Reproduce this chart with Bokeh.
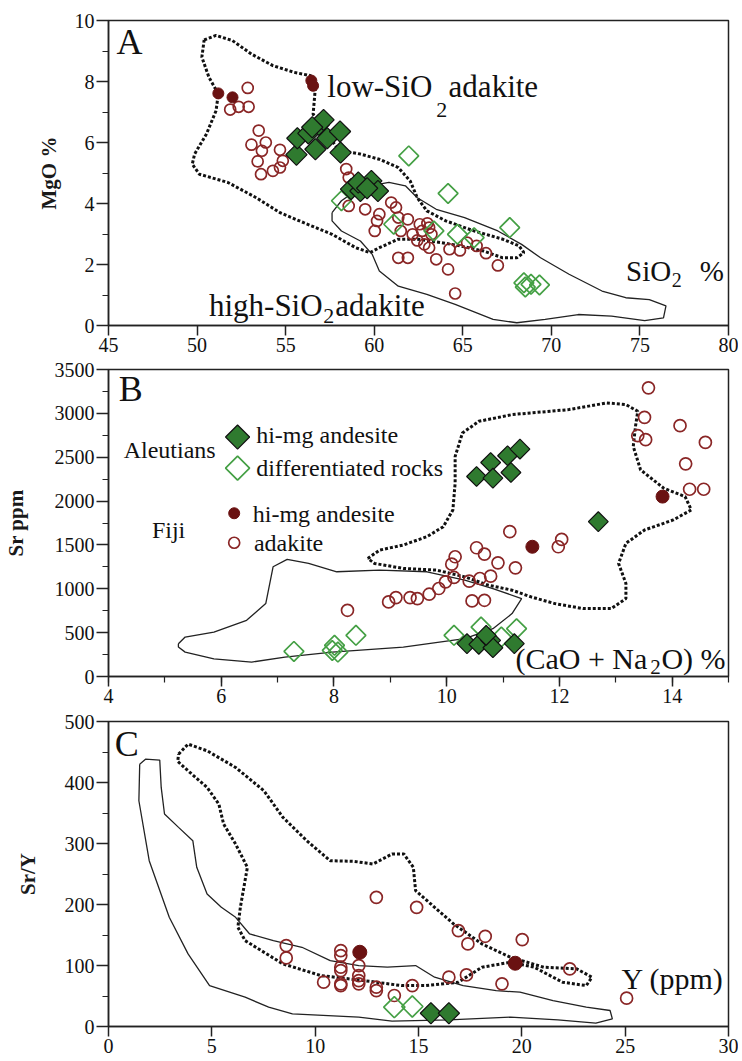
import numpy as np
from bokeh.plotting import figure
from bokeh.layouts import column
from bokeh.models import Range1d, SingleIntervalTicker
from bokeh.embed import file_html
from bokeh.resources import INLINE
from bokeh.core.properties import value

SERIF = "Liberation Serif"
RED_LINE = "#8a2626"
RED_FILL = "#6a1212"
GREEN_FILL = "#2f7a2f"
GREEN_OPEN = "#45a045"
INK = "#111111"

# ---------------- Panel A : MgO vs SiO2 ----------------
a_fiji_hma_x = [51.2, 52.0, 56.45, 56.55]
a_fiji_hma_y = [7.61, 7.48, 8.03, 7.86]
a_fiji_adk_x = [52.86, 51.87, 52.35, 52.91, 53.48, 53.07, 53.88, 53.66, 54.68, 53.42, 54.84,
                53.61, 54.28, 54.68, 58.42, 58.56, 58.56, 59.49, 60.29, 60.16, 60.03, 60.96,
                61.23, 61.36, 61.9, 61.5, 62.17, 62.57, 62.43, 62.83, 63.10, 63.23, 63.1,
                61.36, 61.9, 63.5, 64.25, 64.84, 65.24, 65.78, 66.31, 66.98, 64.17, 64.57,
                63.0, 62.7]
a_fiji_adk_y = [7.79, 7.08, 7.17, 7.17, 6.39, 5.93, 6.0, 5.73, 5.76, 5.38, 5.40,
                4.96, 5.07, 5.18, 5.13, 4.85, 3.92, 3.81, 3.65, 3.43, 3.10, 4.03,
                3.87, 3.54, 3.48, 3.10, 2.99, 3.32, 2.79, 2.66, 2.55, 2.99, 3.21,
                2.22, 2.22, 2.17, 2.5, 2.46, 2.72, 2.61, 2.37, 1.97, 1.84, 1.05,
                3.35, 3.1]
a_aleu_hma_x = [55.61, 55.66, 56.28, 56.87, 57.14, 56.68, 57.35, 58.07, 58.10, 56.5,
                58.69, 59.22, 59.84, 60.21, 59.1, 59.6]
a_aleu_hma_y = [5.60, 6.14, 6.30, 6.58, 6.74, 5.78, 6.14, 6.36, 5.67, 6.5,
                4.47, 4.41, 4.74, 4.41, 4.69, 4.5]
a_aleu_dif_x = [61.95, 64.17, 67.65, 64.7, 65.64, 63.37, 61.1, 58.15, 68.53, 68.85, 69.33, 68.45]
a_aleu_dif_y = [5.56, 4.33, 3.21, 2.99, 2.88, 3.10, 3.32, 4.09, 1.26, 1.35, 1.33, 1.4]

a_low_field_x = [50.4, 51.07, 52.0, 53.07, 54.28, 55.48, 56.42, 56.68, 56.6, 56.55, 58.0,
                 59.22, 60.29, 61.36, 62.03, 62.43, 62.97, 64.04, 65.64, 67.25, 68.18, 68.45,
                 68.05, 67.25, 66.18, 64.84, 63.77, 62.43, 61.36, 60.29, 59.76, 58.96, 57.62,
                 56.02, 54.68, 53.34, 51.74, 50.13, 49.73, 49.86, 50.53, 51.07, 51.2, 50.67, 50.27]
a_low_field_y = [9.36, 9.51, 9.34, 8.9, 8.52, 8.30, 8.19, 7.81, 7.26, 6.93, 5.75,
                 5.62, 5.45, 5.18, 4.74, 4.19, 3.76, 3.43, 3.10, 2.83, 2.61, 2.39,
                 2.22, 2.22, 2.44, 2.61, 2.72, 2.83, 2.83, 2.55, 2.39, 2.55, 2.99,
                 3.37, 3.70, 4.19, 4.69, 4.96, 5.29, 5.62, 6.28, 7.04, 7.59, 8.14, 8.80]
a_high_field_x = [57.62, 58.15, 59.22, 60.83, 61.76, 62.43, 63.5, 65.1, 66.98, 68.32, 69.39,
                  71.0, 72.86, 74.2, 75.53, 76.47, 76.33, 75.27, 73.4, 71.52, 69.65, 68.05,
                  66.71, 64.57, 62.97, 61.36, 60.29, 59.89, 59.22, 58.15, 57.62]
a_high_field_y = [3.70, 4.09, 4.52, 4.69, 4.58, 4.19, 3.81, 3.54, 3.10, 2.66, 2.22,
                  1.68, 1.13, 0.91, 0.85, 0.64, 0.25, 0.16, 0.31, 0.36, 0.20, 0.09,
                  0.20, 0.69, 1.02, 1.29, 1.79, 2.33, 2.77, 3.10, 3.43]

a_big_text = ["low-SiO", "adakite", "high-SiO", "adakite"]
a_big_x = [57.35, 64.2, 50.67, 57.8]
a_big_y = [7.83, 7.83, 0.64, 0.64]
a_sub_text = ["2", "2"]
a_sub_x = [63.5, 57.12]
a_sub_y = [7.05, 0.3]
a_axis_text = ["SiO", "%"]
a_axis_x = [74.22, 78.37]
a_axis_y = [1.79, 1.79]
a_axis_sub = ["2"]
a_axis_sub_x = [76.8]
a_axis_sub_y = [1.5]

# ---------------- Panel B : Sr vs CaO+Na2O ----------------
b_aleu_hma_x = [10.53, 10.78, 10.82, 11.08, 11.14, 11.30, 12.69, 10.36, 10.57, 10.78, 10.82, 10.70, 11.20]
b_aleu_hma_y = [2280, 2440, 2261, 2517, 2326, 2593, 1765, 374, 366, 412, 328, 469, 374]
b_aleu_dif_x = [7.29, 7.97, 8.01, 8.07, 8.39, 10.13, 10.61, 10.97, 11.24]
b_aleu_dif_y = [286, 297, 355, 278, 469, 469, 564, 450, 545]
b_fiji_hma_x = [11.52, 13.83]
b_fiji_hma_y = [1479, 2051]
b_fiji_adk_x = [13.58, 13.51, 13.39, 13.53, 14.14, 14.59, 14.24, 14.31, 14.56, 11.12, 12.04,
                11.98, 10.53, 10.67, 10.91, 11.22, 10.15, 10.09, 10.78, 10.59, 10.40, 10.13,
                9.98, 9.86, 9.69, 9.48, 9.35, 9.10, 8.97, 10.45, 10.67, 8.24]
b_fiji_adk_y = [3291, 2955, 2745, 2700, 2860, 2669, 2425, 2135, 2135, 1651, 1563,
                1479, 1468, 1396, 1296, 1239, 1365, 1281, 1144, 1117, 1087, 1129,
                1079, 1003, 938, 888, 900, 900, 850, 862, 869, 755]

b_dot_field_x = [8.6, 8.81, 9.23, 9.65, 9.94, 10.11, 10.15, 10.15, 10.28, 10.57, 11.16, 12.17,
                 12.84, 13.18, 13.39, 13.35, 13.31, 13.44, 13.85, 14.23, 14.34, 14.02, 13.51,
                 13.18, 13.05, 13.18, 13.18, 12.92, 12.42, 11.92, 11.50, 11.16, 10.74, 10.32,
                 9.82, 9.23, 8.72]
b_dot_field_y = [1346, 1441, 1499, 1594, 1708, 1899, 2204, 2509, 2776, 2909, 2986, 3043,
                 3119, 3100, 3024, 2852, 2623, 2356, 2147, 2051, 1899, 1785, 1670,
                 1518, 1289, 1060, 888, 774, 774, 831, 907, 984, 1041, 1136,
                 1213, 1232, 1289]
b_sol_field_x = [5.24, 5.36, 5.87, 6.45, 6.79, 6.92, 7.17, 7.55, 8.05, 8.81, 9.65, 10.32,
                 10.82, 11.33, 11.16, 10.82, 10.32, 9.23, 7.97, 7.13, 6.54, 5.87, 5.36, 5.24]
b_sol_field_y = [374, 450, 507, 641, 831, 1251, 1335, 1289, 1194, 1213, 1194, 1098,
                 1003, 888, 717, 545, 431, 336, 278, 221, 164, 202, 278, 336]

b_group_text = ["Aleutians", "Fiji"]
b_group_x = [4.27, 4.77]
b_group_y = [2585, 1670]
b_key_text = ["hi-mg andesite", "differentiated rocks", "hi-mg andesite", "adakite"]
b_key_text_x = [6.62, 6.62, 6.56, 6.58]
b_key_text_y = [2750, 2375, 1852, 1520]
b_key_dia_x = [6.29]
b_key_dia_y = [2730]
b_key_odia_x = [6.29]
b_key_odia_y = [2375]
b_key_dot_x = [6.23]
b_key_dot_y = [1861]
b_key_ring_x = [6.23]
b_key_ring_y = [1525]
b_axis_text = ["(CaO + Na", "O) %"]
b_axis_x = [11.22, 13.81]
b_axis_y = [202, 202]
b_axis_sub = ["2"]
b_axis_sub_x = [13.61]
b_axis_sub_y = [105]

# ---------------- Panel C : Sr/Y vs Y ----------------
c_fiji_adk_x = [8.60, 8.60, 12.96, 14.91, 16.93, 17.39, 18.23, 20.02, 22.32, 25.07, 10.41,
                11.24, 11.24, 11.24, 11.24, 11.24, 11.24, 12.11, 12.11, 12.11, 12.11, 12.96,
                12.96, 13.83, 14.70, 16.47, 17.32, 19.04]
c_fiji_adk_y = [132.6, 112.4, 211.8, 195.4, 157.2, 135.4, 147.9, 142.5, 94.4, 46.4, 72.6,
                124.5, 116.3, 97.2, 91.7, 69.9, 67.1, 99.9, 83.5, 75.3, 69.9, 64.4,
                58.9, 50.8, 67.1, 80.8, 84.6, 69.9]
c_fiji_hma_x = [12.16, 19.68]
c_fiji_hma_y = [121.7, 103.7]
c_aleu_dif_x = [13.83, 14.70]
c_aleu_dif_y = [31.7, 32.8]
c_aleu_hma_x = [15.6, 16.47]
c_aleu_hma_y = [21.8, 21.8]

c_dot_field_x = [3.39, 3.85, 4.77, 6.15, 7.52, 8.44, 9.59, 10.73, 11.88, 12.80, 13.72, 14.29,
                 14.75, 14.86, 15.78, 16.70, 18.07, 19.45, 21.06, 22.66, 23.39, 23.12, 21.97,
                 20.6, 19.45, 18.07, 16.93, 15.32, 14.17, 12.34, 10.28, 8.44, 6.61, 6.26,
                 6.38, 6.72, 6.15, 5.57, 5.34, 4.77, 3.85, 3.35]
c_dot_field_y = [446.5, 462.9, 452, 424.7, 386.5, 342.8, 304.6, 271.8, 270.7, 266.4, 282.8, 282.8,
                 260.9, 222.7, 195.4, 168.1, 135.4, 113.5, 97.2, 94.4, 80.8, 67.1, 72.6,
                 97.2, 105.3, 97.2, 72.6, 67.1, 67.1, 75.3, 83.5, 102.6, 140.8, 162.7,
                 195.4, 260.9, 299.1, 331.9, 364.6, 391.9, 419.2, 434.5]
c_sol_field_x = [1.51, 1.79, 2.48, 2.55, 2.71, 3.39, 4.08, 4.27, 4.77, 5.46, 6.15, 6.83,
                 7.98, 9.36, 10.73, 12.11, 13.49, 14.86, 15.78, 17.16, 18.76, 19.91, 21.51,
                 23.12, 24.27, 24.38, 23.58, 21.74, 19.45, 16.47, 13.72, 12.11, 8.90, 7.75,
                 6.61, 4.89, 3.85, 2.94, 1.97, 1.47]
c_sol_field_y = [430, 438.3, 436.7, 391.9, 348.3, 326.4, 304.6, 260.9, 217.2, 195.4, 179.0, 151.7,
                 140.8, 129.9, 108.1, 99.9, 97.2, 99.9, 80.8, 67.1, 58.9, 56.2, 42.6,
                 31.7, 26.2, 12.6, 5.5, 10.9, 15.3, 10.9, 8.7, 15.3, 20.7, 31.7,
                 48.0, 67.1, 119.0, 179.0, 271.8, 370.1]
c_axis_text = ["Y (ppm)"]
c_axis_x = [24.82]
c_axis_y = [78]

panel_letters = ["A", "B", "C"]
panel_letter_x = [45.45, 4.18, 0.3]
panel_letter_y = [9.3, 3272, 463]


def closed(xs, ys):
    return list(xs) + [xs[0]], list(ys) + [ys[0]]


def make_fig(xr, yr, xint, yint, xminor, yminor, ylabel, height, top, bottom, standoff):
    p = figure(width=738, height=height,
               min_border_left=108, min_border_right=10,
               min_border_top=top, min_border_bottom=bottom,
               x_range=Range1d(*xr), y_range=Range1d(*yr),
               output_backend="svg", toolbar_location=None,
               background_fill_color="white", border_fill_color="white")
    p.xaxis.ticker = SingleIntervalTicker(interval=xint, num_minor_ticks=xminor)
    p.yaxis.ticker = SingleIntervalTicker(interval=yint, num_minor_ticks=yminor)
    p.grid.visible = False
    p.outline_line_color = "#222222"
    p.outline_line_width = 1.5
    for ax in (p.xaxis, p.yaxis):
        ax.axis_line_color = "#222222"
        ax.axis_line_width = 1.5
        ax.major_tick_line_color = "#222222"
        ax.major_tick_line_width = 1.5
        ax.minor_tick_line_color = "#222222"
        ax.minor_tick_line_width = 1.2
        ax.major_tick_in = 0
        ax.minor_tick_out = 6
        ax.minor_tick_in = 0
        ax.major_label_text_font = SERIF
        ax.major_label_text_font_size = "20px"
        ax.major_label_text_color = INK
        ax.major_label_standoff = 2
    p.xaxis.major_tick_out = 10
    p.yaxis.major_tick_out = 12
    p.yaxis.axis_label = ylabel
    p.yaxis.axis_label_text_font = SERIF
    p.yaxis.axis_label_text_font_style = "bold"
    p.yaxis.axis_label_text_font_size = "21px"
    p.yaxis.axis_label_text_color = "#1a1a1a"
    p.yaxis.axis_label_standoff = standoff
    return p


def txt(p, xs, ys, texts, size, align="left"):
    p.text(x=xs, y=ys, text=texts, text_font=value(SERIF), text_font_size=size,
           text_align=align, text_baseline="middle", text_color=INK)


def dotted(p, xs, ys):
    cx, cy = closed(xs, ys)
    p.line(cx, cy, line_color="#111111", line_width=3, line_dash="3 2")


def solid(p, xs, ys):
    cx, cy = closed(xs, ys)
    p.line(cx, cy, line_color="#222222", line_width=1.3)


def rings(p, xs, ys, size=11):
    p.scatter(xs, ys, marker="circle", size=size, fill_color=None,
              line_color=RED_LINE, line_width=1.7)


def dots(p, xs, ys, size=11):
    p.scatter(xs, ys, marker="circle", size=size, fill_color=RED_FILL,
              line_color=RED_FILL, line_width=1)


def dia(p, xs, ys, size=12):
    p.scatter(xs, ys, marker="square", angle=np.pi / 4, size=size,
              fill_color=GREEN_FILL, line_color="#111111", line_width=1.2)


def odia(p, xs, ys, size=12):
    p.scatter(xs, ys, marker="square", angle=np.pi / 4, size=size,
              fill_color=None, line_color=GREEN_OPEN, line_width=1.7)


# ---- Panel A  (frame 20..325)
pa = make_fig((45, 80), (0, 10), 5, 2, 0, 2, "MgO %", 360, 20, 35, 11)
dotted(pa, a_low_field_x, a_low_field_y)
solid(pa, a_high_field_x, a_high_field_y)
rings(pa, a_fiji_adk_x, a_fiji_adk_y, 11)
odia(pa, a_aleu_dif_x, a_aleu_dif_y, 14)
dia(pa, a_aleu_hma_x, a_aleu_hma_y, 15)
dots(pa, a_fiji_hma_x, a_fiji_hma_y, 11)
txt(pa, a_big_x, a_big_y, a_big_text, "31px")
txt(pa, a_sub_x, a_sub_y, a_sub_text, "22px")
txt(pa, a_axis_x, a_axis_y, a_axis_text, "29px")
txt(pa, a_axis_sub_x, a_axis_sub_y, a_axis_sub, "20px")
txt(pa, panel_letter_x[:1], panel_letter_y[:1], panel_letters[:1], "36px")

# ---- Panel B  (frame 369..676)
pb = make_fig((4, 15), (0, 3500), 2, 500, 2, 2, "Sr ppm", 352, 9, 36, 24)
dotted(pb, b_dot_field_x, b_dot_field_y)
solid(pb, b_sol_field_x, b_sol_field_y)
rings(pb, b_fiji_adk_x, b_fiji_adk_y, 12)
odia(pb, b_aleu_dif_x, b_aleu_dif_y, 14)
dia(pb, b_aleu_hma_x, b_aleu_hma_y, 14)
dots(pb, b_fiji_hma_x, b_fiji_hma_y, 13)
dia(pb, b_key_dia_x, b_key_dia_y, 17)
odia(pb, b_key_odia_x, b_key_odia_y, 17)
dots(pb, b_key_dot_x, b_key_dot_y, 11)
rings(pb, b_key_ring_x, b_key_ring_y, 11)
txt(pb, b_group_x, b_group_y, b_group_text, "24px")
txt(pb, b_key_text_x, b_key_text_y, b_key_text, "24px")
txt(pb, b_axis_x, b_axis_y, b_axis_text, "30px")
txt(pb, b_axis_sub_x, b_axis_sub_y, b_axis_sub, "21px")
txt(pb, panel_letter_x[1:2], panel_letter_y[1:2], panel_letters[1:2], "36px")

# ---- Panel C  (frame 721..1026)
pc = make_fig((0, 30), (0, 500), 5, 100, 0, 2, "Sr/Y", 349, 9, 35, 22)
dotted(pc, c_dot_field_x, c_dot_field_y)
solid(pc, c_sol_field_x, c_sol_field_y)
rings(pc, c_fiji_adk_x, c_fiji_adk_y, 12)
odia(pc, c_aleu_dif_x, c_aleu_dif_y, 15)
dia(pc, c_aleu_hma_x, c_aleu_hma_y, 15)
dots(pc, c_fiji_hma_x, c_fiji_hma_y, 14)
txt(pc, c_axis_x, c_axis_y, c_axis_text, "30px")
txt(pc, panel_letter_x[2:], panel_letter_y[2:], panel_letters[2:], "36px")

layout = column(pa, pb, pc, spacing=0)
open("out.html", "w").write(file_html(layout, INLINE))
